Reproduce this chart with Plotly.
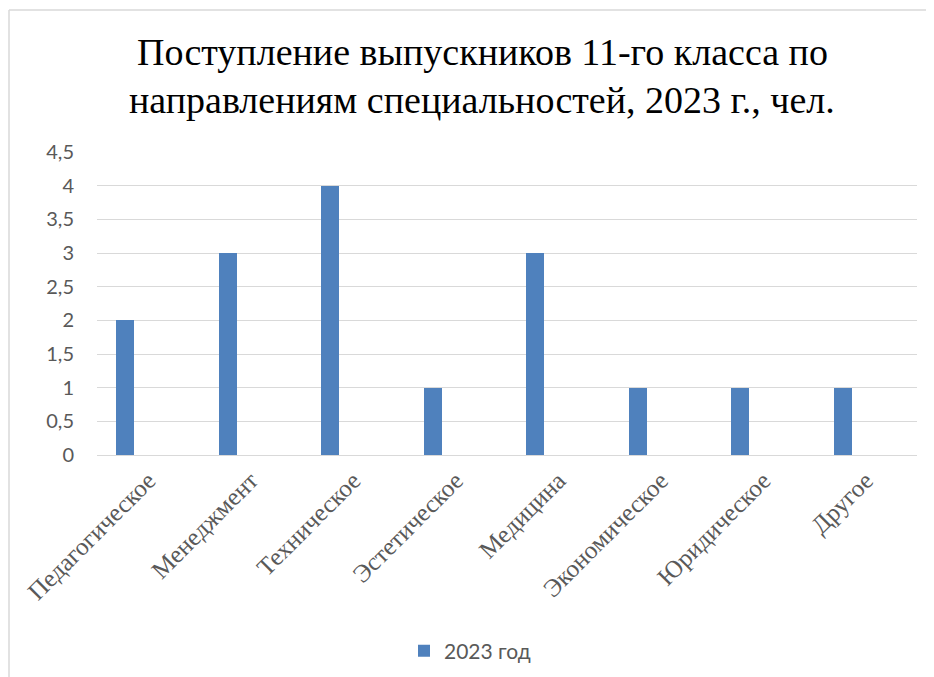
import plotly.graph_objects as go

categories = ["Педагогическое", "Менеджмент", "Техническое", "Эстетическое",
              "Медицина", "Экономическое", "Юридическое", "Другое"]
values_2023 = [2, 3, 4, 1, 3, 1, 1, 1]
series_name = "2023 год"
y_ticks = [0, 0.5, 1, 1.5, 2, 2.5, 3, 3.5, 4, 4.5]
y_tick_labels = ["0", "0,5", "1", "1,5", "2", "2,5", "3", "3,5", "4", "4,5"]
title_lines = ["Поступление выпускников 11-го класса по",
               "направлениям специальностей, 2023 г., чел."]

OFF = 8  # page body margin
W, H = 934, 677
L, R, T = 97 - OFF, 25, 152 - OFF
B = H - (455 - OFF)
pw, ph = W - L - R, H - T - B

def px_x(x):
    return (x - OFF - L) / pw

def px_y(y):
    return (H - B - (y - OFF)) / ph

SERIF = "Liberation Serif"
SANS = "Lato"

fig = go.Figure()
fig.add_trace(go.Bar(
    x=categories, y=values_2023, name=series_name,
    marker=dict(color="#4F81BD", line=dict(width=0)),
    width=0.176, offset=-0.314,
))

fig.update_layout(
    width=W, height=H,
    margin=dict(l=L, r=R, t=T, b=B),
    paper_bgcolor="white", plot_bgcolor="white",
    font=dict(family=SERIF),
    showlegend=True,
    legend=dict(orientation="h", x=px_x(470), xanchor="center",
                y=px_y(651), yanchor="middle",
                font=dict(family=SANS, size=21, color="#595959")),
    bargap=0,
    xaxis=dict(type="category", range=[-0.5, 7.5], showgrid=False,
               showline=True, linecolor="#D9D9D9", linewidth=1,
               ticks="", tickangle=-45,
               tickfont=dict(family=SERIF, size=25, color="#595959")),
    yaxis=dict(range=[0, 4.5], tickvals=y_ticks, ticktext=y_tick_labels,
               showgrid=True, gridcolor="#D9D9D9", gridwidth=1,
               zeroline=False, showline=False, ticks="",
               ticklabelstandoff=22,
               tickfont=dict(family=SANS, size=20, color="#595959")),
)

for line, py in zip(title_lines, [52, 100]):
    fig.add_annotation(text=line, xref="paper", yref="paper",
                       x=px_x(482), y=px_y(py), xanchor="center", yanchor="middle",
                       showarrow=False,
                       font=dict(family=SERIF, size=38, color="black"))

# chart border (top and left visible)
fig.add_shape(type="line", xref="paper", yref="paper",
              x0=px_x(9), x1=px_x(960), y0=px_y(10), y1=px_y(10),
              line=dict(color="#D9D9D9", width=1.5))
fig.add_shape(type="line", xref="paper", yref="paper",
              x0=px_x(9), x1=px_x(9), y0=px_y(10), y1=px_y(700),
              line=dict(color="#D9D9D9", width=1.5))

fig.write_html("out.html")
